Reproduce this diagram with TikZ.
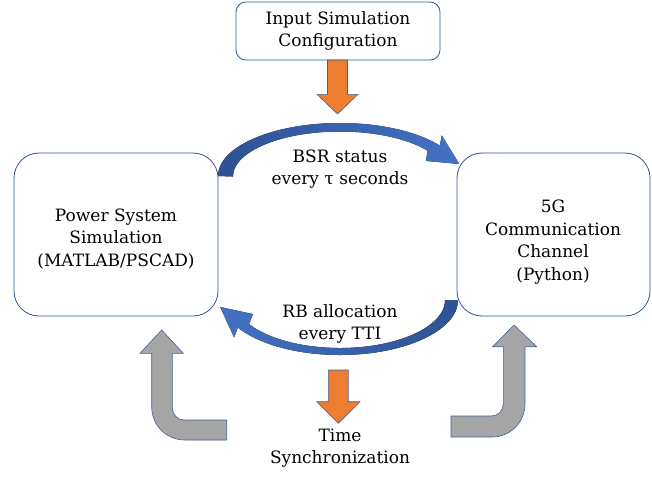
\documentclass[tikz,border=0pt]{standalone}
\usepackage{fontspec}
\setmainfont{DejaVu Serif}
\begin{document}
\begin{tikzpicture}[x=1pt,y=-1pt,
  every node/.style={font=\fontsize{17}{22.5}\selectfont, align=center, text=black},
  box/.style={draw=boxblue, line width=0.8pt, fill=white, inner sep=0pt},
  orangearrow/.style={fill=arroworange, draw=edgeblue, line width=0.6pt, line join=miter},
  grayarrow/.style={fill=arrowgray, draw=edgeblue, line width=0.6pt},
  bluearc/.style={draw=none}
]
\definecolor{boxblue}{HTML}{2F5597}
\definecolor{edgeblue}{HTML}{41619C}
\definecolor{arroworange}{HTML}{ED7D31}
\definecolor{arrowgray}{HTML}{A5A5A5}
\definecolor{darkblue}{HTML}{2E5293}
\definecolor{lightblue}{HTML}{4472C4}

\useasboundingbox (0,0) rectangle (652,477);

% blocks
\node[box, rounded corners=10pt, minimum width=204pt, minimum height=58pt] (input) at (338,31) {};
\node[box, rounded corners=25pt, minimum width=204pt, minimum height=163pt] (power) at (116,234.5) {};
\node[box, rounded corners=25pt, minimum width=193pt, minimum height=163pt] (comm) at (553.5,234.5) {};

\node (inputtxt) at (338,31) {Input Simulation\\Configuration};
\node (powertxt) at (116,239) {Power System\\Simulation\\(MATLAB/PSCAD)};
\node (commtxt) at (553,242) {5G\\Communication\\Channel\\(Python)};

% input configuration feeding the loop
\fill[orangearrow] (327.5,60) -- (347.5,60) -- (347.5,94.3) -- (358,94.3)
  -- (337.5,114) -- (317,94.3) -- (327.5,94.3) -- cycle;

% BSR status: power system -> 5G channel
\fill[bluearc, left color=darkblue, right color=lightblue]
  (218,176) arc[start angle=180, end angle=325, x radius=122, y radius=53]
  -- (441.7,135.4) -- (459.3,164) -- (425.9,160.9) -- (427.6,150.7)
  arc[start angle=325, end angle=180, x radius=107, y radius=45] -- cycle;
\node (bsr) at (340,169) {BSR status\\every τ seconds};

% RB allocation: 5G channel -> power system
\fill[bluearc, left color=lightblue, right color=darkblue]
  (445,300) -- (458,300)
  arc[start angle=0, end angle=150, x radius=118, y radius=55]
  -- (234.1,337.5) -- (220.2,307) -- (252.9,314.1) -- (249.1,324)
  arc[start angle=150, end angle=0, x radius=105, y radius=48] -- cycle;
\node (rb) at (340,324) {RB allocation\\every TTI};

% time synchronization
\fill[orangearrow] (328.3,370) -- (348.3,370) -- (348.3,401.7) -- (360,401.7)
  -- (338.3,423.3) -- (316.7,401.7) -- (328.3,401.7) -- cycle;
\node (sync) at (340,448) {Time\\Synchronization};

% synchronization returned to each simulator
\filldraw[grayarrow] (161.7,330) -- (183.3,353.3) -- (172.3,353.3) -- (172.3,408)
  arc[start angle=180, end angle=90, radius=12] -- (226.7,420) -- (226.7,440)
  -- (184.7,440) arc[start angle=90, end angle=180, radius=33]
  -- (151.7,353.3) -- (140,353.3) -- cycle;

\filldraw[grayarrow] (514,325) -- (536.7,346.7) -- (525,346.7) -- (525,404)
  arc[start angle=0, end angle=90, radius=33] -- (451,437) -- (451,416)
  -- (491.3,416) arc[start angle=90, end angle=0, radius=12]
  -- (503.3,346.7) -- (492.7,346.7) -- cycle;
\end{tikzpicture}
\end{document}
